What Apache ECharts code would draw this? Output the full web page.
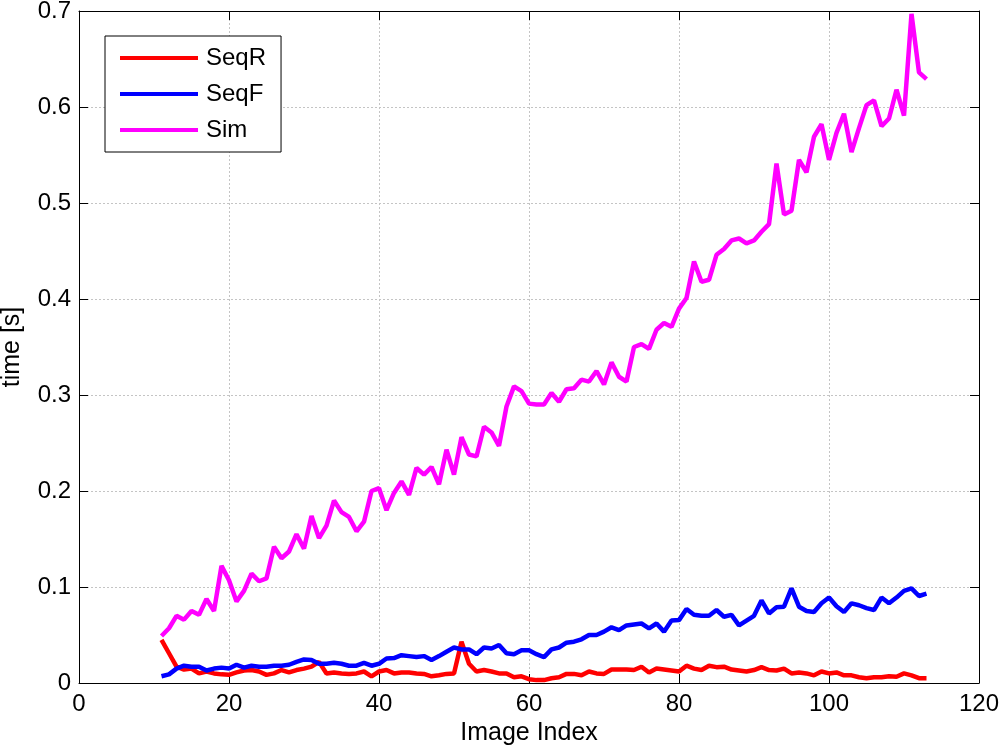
<!DOCTYPE html>
<html>
<head>
<meta charset="utf-8">
<script src="https://cdn.jsdelivr.net/npm/echarts@6/dist/echarts.min.js"></script>
<style>
html,body{margin:0;padding:0;background:#fff;}
#chart{width:1000px;height:752px;}
</style>
</head>
<body>
<div id="chart"></div>
<script>
const imageIndex = [11,12,13,14,15,16,17,18,19,20,21,22,23,24,25,26,27,28,29,30,31,32,33,34,35,36,37,38,39,40,41,42,43,44,45,46,47,48,49,50,51,52,53,54,55,56,57,58,59,60,61,62,63,64,65,66,67,68,69,70,71,72,73,74,75,76,77,78,79,80,81,82,83,84,85,86,87,88,89,90,91,92,93,94,95,96,97,98,99,100,101,102,103,104,105,106,107,108,109,110,111,112,113];

const seqR = [0.045,0.031,0.017,0.014,0.015,0.010,0.012,0.010,0.009,0.0085,0.011,0.013,0.0135,0.012,0.0085,0.010,0.0135,0.011,0.0135,0.015,0.017,0.022,0.010,0.011,0.010,0.0095,0.010,0.012,0.007,0.012,0.0135,0.010,0.011,0.011,0.010,0.0095,0.007,0.008,0.0095,0.010,0.043,0.020,0.012,0.0135,0.012,0.010,0.010,0.006,0.007,0.004,0.003,0.003,0.005,0.006,0.0095,0.0095,0.008,0.012,0.010,0.0095,0.014,0.014,0.014,0.0135,0.017,0.011,0.015,0.014,0.013,0.012,0.018,0.015,0.0135,0.018,0.0165,0.017,0.014,0.013,0.012,0.0135,0.0165,0.0135,0.013,0.015,0.010,0.011,0.010,0.008,0.012,0.010,0.011,0.008,0.008,0.006,0.005,0.006,0.006,0.007,0.0065,0.010,0.008,0.005,0.005];

const seqF = [0.007,0.009,0.015,0.018,0.017,0.017,0.013,0.015,0.016,0.015,0.019,0.016,0.018,0.017,0.017,0.018,0.018,0.019,0.022,0.0245,0.024,0.020,0.020,0.021,0.020,0.018,0.018,0.021,0.018,0.020,0.0255,0.026,0.029,0.028,0.027,0.028,0.024,0.028,0.0326,0.037,0.035,0.035,0.030,0.037,0.036,0.0396,0.031,0.030,0.034,0.034,0.030,0.027,0.035,0.037,0.042,0.043,0.0455,0.050,0.050,0.0535,0.058,0.055,0.060,0.061,0.062,0.057,0.062,0.0535,0.065,0.0655,0.077,0.071,0.070,0.070,0.076,0.069,0.071,0.060,0.065,0.070,0.086,0.0725,0.079,0.0795,0.0986,0.0795,0.075,0.074,0.083,0.089,0.080,0.074,0.083,0.081,0.078,0.076,0.089,0.083,0.089,0.096,0.0986,0.0906,0.093];

const sim = [0.049,0.057,0.070,0.066,0.075,0.071,0.0875,0.075,0.122,0.107,0.085,0.096,0.114,0.106,0.109,0.142,0.130,0.137,0.155,0.140,0.174,0.151,0.164,0.190,0.178,0.173,0.158,0.168,0.200,0.203,0.180,0.198,0.210,0.196,0.224,0.217,0.225,0.207,0.243,0.217,0.256,0.238,0.236,0.267,0.261,0.247,0.288,0.309,0.304,0.291,0.290,0.290,0.302,0.293,0.306,0.307,0.316,0.314,0.325,0.311,0.334,0.319,0.314,0.350,0.353,0.348,0.368,0.375,0.371,0.390,0.401,0.439,0.418,0.420,0.446,0.452,0.461,0.463,0.458,0.461,0.470,0.478,0.541,0.488,0.492,0.545,0.532,0.569,0.582,0.545,0.573,0.593,0.553,0.578,0.602,0.607,0.580,0.588,0.618,0.591,0.697,0.636,0.629];

const seriesNames = ['SeqR', 'SeqF', 'Sim'];
const seriesColors = ['#ff0000', '#0000ff', '#ff00ff'];
const seriesValues = [seqR, seqF, sim];

const FONT = '"Liberation Sans", Arial, sans-serif';
const chart = echarts.init(document.getElementById('chart'), null, {renderer: 'canvas'});

const tickCommon = {show: true, inside: true, length: 9, lineStyle: {color: '#000', width: 1}};
const gridLine = {show: true, lineStyle: {color: '#c4c4c4', type: [2, 2], width: 1}};

const option = {
  animation: false,
  backgroundColor: '#fff',
  grid: {left: 79, right: 21, top: 11, bottom: 69, containLabel: false, outerBoundsMode: 'none', show: false},
  legend: {
    orient: 'vertical',
    left: 105, top: 36,
    backgroundColor: '#fff',
    borderColor: '#000', borderWidth: 1,
    padding: [10, 15, 10, 15],
    itemWidth: 78, itemHeight: 4, itemGap: 12,
    icon: 'rect',
    textStyle: {fontFamily: FONT, fontSize: 24, color: '#000', lineHeight: 24, padding: [0, 0, 0, 3]},
    data: seriesNames
  },
  xAxis: [{
    type: 'value', min: 0, max: 120, interval: 20, position: 'bottom',
    name: 'Image Index', nameLocation: 'middle', nameGap: 33,
    nameTextStyle: {fontFamily: FONT, fontSize: 25, color: '#000'},
    axisLine: {show: true, onZero: false, lineStyle: {color: '#000', width: 1}},
    axisTick: tickCommon,
    axisLabel: {fontFamily: FONT, fontSize: 24, color: '#000', margin: 9},
    splitLine: gridLine
  }, {
    type: 'value', min: 0, max: 120, interval: 20, position: 'top',
    axisLine: {show: true, onZero: false, lineStyle: {color: '#000', width: 1}},
    axisTick: tickCommon,
    axisLabel: {show: false},
    splitLine: {show: false}
  }],
  yAxis: [{
    type: 'value', min: 0, max: 0.7, interval: 0.1, position: 'left',
    name: 'time [s]', nameLocation: 'middle', nameGap: 54,
    nameTextStyle: {fontFamily: FONT, fontSize: 25, color: '#000'},
    axisLine: {show: true, onZero: false, lineStyle: {color: '#000', width: 1}},
    axisTick: tickCommon,
    axisLabel: {fontFamily: FONT, fontSize: 24, color: '#000', margin: 8,
      formatter: v => String(Math.round(v * 10) / 10)},
    splitLine: gridLine
  }, {
    type: 'value', min: 0, max: 0.7, interval: 0.1, position: 'right',
    axisLine: {show: true, onZero: false, lineStyle: {color: '#000', width: 1}},
    axisTick: tickCommon,
    axisLabel: {show: false},
    splitLine: {show: false}
  }],
  series: seriesNames.map((name, k) => ({
    name: name,
    type: 'line',
    xAxisIndex: 0, yAxisIndex: 0,
    showSymbol: false, symbol: 'none',
    color: seriesColors[k],
    lineStyle: {color: seriesColors[k], width: 4.5},
    data: imageIndex.map((x, i) => [x, seriesValues[k][i]])
  }))
};
chart.setOption(option);
</script>
</body>
</html>
